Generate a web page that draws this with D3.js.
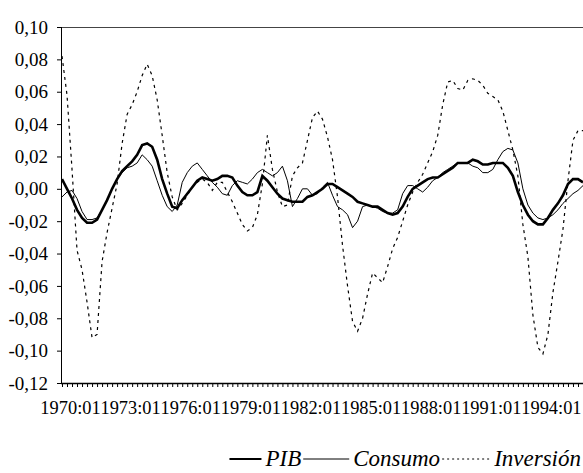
<!DOCTYPE html>
<html>
<head>
<meta charset="utf-8">
<script src="https://cdn.jsdelivr.net/npm/d3@7"></script>
<style>
  body { margin: 0; background: #fff; }
  svg { display: block; }
  svg text { font-family: "Liberation Serif", "Times New Roman", serif; fill: #000; }
</style>
</head>
<body>
<div id="chart"></div>
<script>
// quarterly data, 1970:01 - 1996:01
const pib = [
  0.006, 0.000, -0.006, -0.013, -0.018, -0.021, -0.021, -0.019, -0.013, -0.007,
  0.000, 0.006, 0.011, 0.014, 0.017, 0.021, 0.027, 0.028, 0.026, 0.018,
  0.006, -0.003, -0.011, -0.012, -0.007, -0.003, 0.001, 0.005, 0.007, 0.006,
  0.005, 0.006, 0.008, 0.008, 0.007, 0.002, -0.002, -0.004, -0.004, -0.002,
  0.008, 0.005, 0.001, -0.003, -0.006, -0.007, -0.008, -0.008, -0.008, -0.005,
  -0.004, -0.002, 0.000, 0.003, 0.003, 0.001, -0.001, -0.003, -0.005, -0.008,
  -0.009, -0.010, -0.011, -0.011, -0.013, -0.015, -0.016, -0.015, -0.011, -0.005,
  0.000, 0.002, 0.004, 0.006, 0.007, 0.007, 0.009, 0.011, 0.013, 0.016,
  0.016, 0.016, 0.018, 0.017, 0.015, 0.015, 0.016, 0.016, 0.016, 0.013,
  0.008, -0.002, -0.010, -0.016, -0.020, -0.022, -0.022, -0.018, -0.013, -0.009,
  -0.004, 0.003, 0.006, 0.006, 0.004
];
const consumo = [
  -0.005, -0.002, -0.001, -0.006, -0.014, -0.019, -0.019, -0.018, -0.013, -0.007,
  0.000, 0.006, 0.010, 0.013, 0.014, 0.016, 0.021, 0.018, 0.014, 0.005,
  -0.004, -0.011, -0.014, -0.010, 0.004, 0.010, 0.014, 0.016, 0.012, 0.008,
  0.004, 0.001, -0.003, -0.004, 0.002, 0.005, 0.004, 0.003, 0.006, 0.010,
  0.012, 0.010, 0.008, 0.010, 0.014, 0.005, -0.011, -0.006, 0.000, 0.000,
  -0.004, -0.003, 0.001, 0.004, -0.004, -0.011, -0.013, -0.016, -0.024, -0.020,
  -0.011, -0.010, -0.011, -0.012, -0.014, -0.015, -0.015, -0.013, -0.003, 0.002,
  0.002, 0.000, -0.002, 0.001, 0.005, 0.007, 0.010, 0.012, 0.014, 0.016,
  0.016, 0.016, 0.014, 0.013, 0.010, 0.010, 0.012, 0.018, 0.023, 0.025,
  0.024, 0.016, 0.000, -0.010, -0.015, -0.018, -0.019, -0.018, -0.016, -0.013,
  -0.009, -0.006, -0.003, -0.001, 0.002
];
const inversion = [
  0.082, 0.058, 0.012, -0.038, -0.050, -0.070, -0.092, -0.090, -0.045, -0.027,
  -0.012, 0.003, 0.028, 0.046, 0.052, 0.060, 0.070, 0.077, 0.070, 0.055,
  0.033, 0.010, -0.005, -0.013, -0.009, -0.004, 0.001, 0.004, 0.006, 0.004,
  -0.001, 0.004, 0.004, -0.002, -0.008, -0.015, -0.022, -0.026, -0.024, -0.016,
  0.003, 0.033, 0.012, -0.002, -0.011, -0.010, 0.008, 0.013, 0.016, 0.030,
  0.044, 0.048, 0.043, 0.032, 0.018, -0.005, -0.035, -0.060, -0.082, -0.088,
  -0.080, -0.065, -0.052, -0.055, -0.058, -0.048, -0.037, -0.030, -0.020, -0.010,
  -0.002, 0.004, 0.009, 0.016, 0.023, 0.033, 0.052, 0.066, 0.067, 0.062,
  0.061, 0.067, 0.068, 0.067, 0.064, 0.059, 0.057, 0.055, 0.048, 0.036,
  0.024, 0.008, -0.022, -0.042, -0.078, -0.098, -0.102, -0.090, -0.064, -0.045,
  -0.025, 0.005, 0.030, 0.036, 0.036
];
const seriesNames = ["PIB", "Consumo", "Inversión"];
const dateLabels = ["1970:01", "1973:01", "1976:01", "1979:01", "1982:01",
                    "1985:01", "1988:01", "1991:01", "1994:01"];
const yTicks = [-0.12, -0.10, -0.08, -0.06, -0.04, -0.02, 0.00, 0.02, 0.04, 0.06, 0.08, 0.10];

const width = 583, height = 473;
const plotLeft = 61, plotTop = 27, plotBottom = 383;
const n = pib.length;

const locale = d3.formatLocale({ decimal: ",", thousands: ".", grouping: [3], currency: ["", ""], minus: "-" });
const fmt = locale.format(".2f");

const svg = d3.select("#chart").append("svg")
    .attr("width", width)
    .attr("height", height);

const x = d3.scaleLinear().domain([0, n - 1]).range([62, 583]);
const y = d3.scaleLinear().domain([-0.12, 0.10]).range([plotBottom, plotTop]);

// frame top
svg.append("line")
    .attr("x1", plotLeft).attr("x2", width)
    .attr("y1", plotTop + 0.5).attr("y2", plotTop + 0.5)
    .attr("stroke", "#444").attr("stroke-width", 1);

// y axis
const yAxis = svg.append("g")
    .attr("transform", `translate(${plotLeft},0)`)
    .call(d3.axisLeft(y).tickValues(yTicks).tickFormat(fmt).tickSize(4).tickPadding(9));
yAxis.select(".domain").attr("stroke", "#000").attr("d", `M0.5,${plotTop}V${plotBottom}`);
yAxis.selectAll("text").attr("font-size", 19).attr("font-family", "Liberation Serif");

// x axis: one tick per quarter
const xAxis = svg.append("g")
    .attr("transform", `translate(0,${plotBottom})`)
    .call(d3.axisBottom(x).tickValues(d3.range(n)).tickFormat("").tickSize(4));
xAxis.select(".domain").attr("stroke", "#000").attr("stroke-width", 1.5)
    .attr("d", `M${plotLeft},0.5H${width}`);

const labelIdx = dateLabels.map(s => (+s.slice(0, 4) - 1970) * 4);
const xLab = svg.append("g")
    .attr("transform", `translate(0,${plotBottom})`)
    .call(d3.axisBottom(x).tickValues(labelIdx)
        .tickFormat((d, i) => dateLabels[i]).tickSize(0).tickPadding(18));
xLab.select(".domain").remove();
xLab.selectAll("text").attr("font-size", 18.4).attr("font-family", "Liberation Serif")
    .attr("dx", 8);

// series
const line = d3.line().x((d, i) => x(i)).y(d => y(d));

svg.append("path").datum(inversion)
    .attr("d", line).attr("fill", "none")
    .attr("stroke", "#000").attr("stroke-width", 1.2).attr("stroke-dasharray", "3,4");
svg.append("path").datum(consumo)
    .attr("d", line).attr("fill", "none")
    .attr("stroke", "#000").attr("stroke-width", 1);
svg.append("path").datum(pib)
    .attr("d", line).attr("fill", "none")
    .attr("stroke", "#000").attr("stroke-width", 2.6);

// legend, laid out from the right edge
const styles = [
  { w: 2, dash: null, len: 32 },
  { w: 1, dash: null, len: 46 },
  { w: 1, dash: "2,3", len: 48 }
];
const ly = 459;
const leg = svg.append("g");
const labels = seriesNames.map(name => leg.append("text")
    .attr("y", ly + 7).attr("font-size", 23).attr("font-style", "italic").text(name));
let cx = 581;
for (let k = seriesNames.length - 1; k >= 0; k--) {
  const w = labels[k].node().getComputedTextLength();
  cx -= w;
  labels[k].attr("x", cx);
  cx -= 4;
  leg.append("line").attr("x1", cx - styles[k].len).attr("x2", cx)
      .attr("y1", ly).attr("y2", ly)
      .attr("stroke", "#000").attr("stroke-width", styles[k].w)
      .attr("stroke-dasharray", styles[k].dash);
  cx -= styles[k].len + 2;
}
</script>
</body>
</html>
